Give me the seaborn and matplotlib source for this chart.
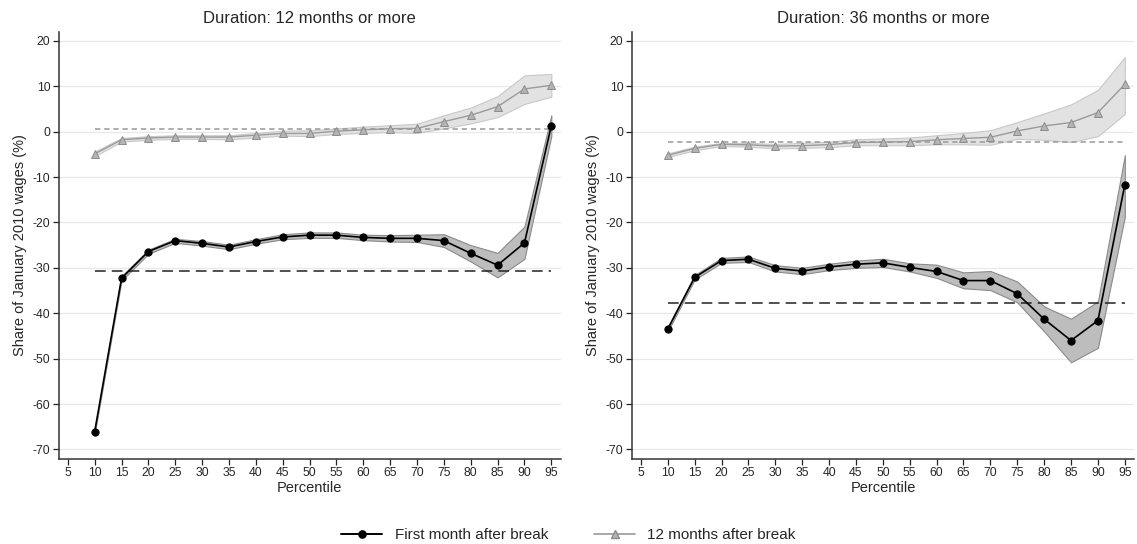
import numpy as np
import pandas as pd
import matplotlib
matplotlib.use("Agg")
import matplotlib.pyplot as plt
import seaborn as sns
from matplotlib.lines import Line2D

sns.set_theme(style="white")
plt.rcParams['font.family'] = ['Liberation Sans', 'DejaVu Sans']

percentiles = [10, 15, 20, 25, 30, 35, 40, 45, 50, 55, 60, 65, 70, 75, 80, 85, 90, 95]
xticks = list(range(5, 100, 5))
yticks = [20, 10, 0, -10, -20, -30, -40, -50, -60, -70]

titles = ["Duration: 12 months or more", "Duration: 36 months or more"]
series_names = ["First month after break", "12 months after break"]

# Panel 1: 12 months or more
first_12 = [-66.1, -32.3, -26.4, -24.0, -24.6, -25.4, -24.2, -23.2, -22.8, -22.8, -23.3, -23.5, -23.5, -24.0, -26.8, -29.4, -24.5, 1.3]
first_12_hi = [-65.6, -31.8, -26.0, -23.6, -24.1, -24.9, -23.7, -22.6, -22.2, -22.2, -22.7, -22.8, -22.7, -22.6, -25.0, -26.7, -20.9, 3.6]
first_12_lo = [-66.6, -32.8, -26.9, -24.5, -25.1, -25.9, -24.7, -23.7, -23.4, -23.4, -23.9, -24.2, -24.3, -25.4, -28.6, -32.1, -28.0, -1.0]
twelve_12 = [-4.9, -1.8, -1.4, -1.2, -1.2, -1.2, -0.8, -0.4, -0.4, 0.1, 0.4, 0.65, 0.7, 2.2, 3.6, 5.5, 9.4, 10.2]
twelve_12_hi = [-4.4, -1.4, -1.0, -0.8, -0.8, -0.8, -0.3, 0.2, 0.3, 0.7, 1.1, 1.4, 1.75, 3.6, 5.3, 7.8, 12.4, 12.7]
twelve_12_lo = [-5.4, -2.2, -1.8, -1.6, -1.6, -1.7, -1.3, -0.9, -1.0, -0.5, -0.3, -0.1, -0.3, 0.7, 1.8, 3.2, 6.1, 7.7]
mean_first_12 = -30.7
mean_twelve_12 = 0.6

# Panel 2: 36 months or more
first_36 = [-43.5, -32.1, -28.4, -28.1, -30.1, -30.7, -29.8, -29.2, -28.9, -29.9, -30.8, -32.8, -32.8, -35.7, -41.3, -46.0, -41.6, -11.7]
first_36_hi = [-43.0, -31.6, -27.8, -27.5, -29.4, -30.0, -29.1, -28.4, -28.0, -29.0, -29.3, -31.0, -30.7, -33.0, -38.5, -41.2, -37.4, -5.2]
first_36_lo = [-44.0, -32.6, -28.9, -28.7, -30.8, -31.4, -30.5, -30.0, -29.8, -30.8, -32.2, -34.5, -34.9, -37.6, -44.0, -50.8, -47.6, -18.8]
twelve_36 = [-5.2, -3.7, -2.8, -2.9, -3.2, -3.1, -2.85, -2.4, -2.3, -2.2, -1.8, -1.5, -1.25, 0.15, 1.25, 2.0, 4.2, 10.4]
twelve_36_hi = [-4.8, -3.3, -2.5, -2.5, -2.7, -2.5, -2.2, -1.7, -1.5, -1.3, -0.8, -0.3, 0.3, 2.1, 4.0, 6.0, 9.2, 16.4]
twelve_36_lo = [-5.6, -4.1, -3.2, -3.3, -3.7, -3.6, -3.4, -3.0, -3.0, -3.0, -2.8, -2.8, -2.9, -1.6, -1.8, -2.3, -1.0, 3.9]
mean_first_36 = -37.8
mean_twelve_36 = -2.3

panels = [
    (first_12, first_12_lo, first_12_hi, twelve_12, twelve_12_lo, twelve_12_hi, mean_first_12, mean_twelve_12),
    (first_36, first_36_lo, first_36_hi, twelve_36, twelve_36_lo, twelve_36_hi, mean_first_36, mean_twelve_36),
]

fig = plt.figure(figsize=(11.37, 5.44), dpi=100)
axes = [fig.add_axes([0.0516, 0.1562, 0.4418, 0.7855]),
        fig.add_axes([0.5556, 0.1562, 0.4422, 0.7855])]

for ax, title, (f, flo, fhi, t, tlo, thi, mf, mt) in zip(axes, titles, panels):
    df = pd.DataFrame({"pct": percentiles, "first": f, "twelve": t})
    for yv in yticks:
        ax.axhline(yv, color="#e8e8e8", lw=0.9, zorder=0)
    ax.fill_between(percentiles, tlo, thi, color="#e2e2e2", edgecolor="#c8c8c8", lw=0.8, zorder=1)
    ax.fill_between(percentiles, flo, fhi, color="#bdbdbd", edgecolor="#8a8a8a", lw=0.8, zorder=2)
    ax.hlines(mt, percentiles[0], percentiles[-1], colors="#999999", linestyles=(0, (3.5, 2.5)), lw=1.1, zorder=3)
    ax.hlines(mf, percentiles[0], percentiles[-1], colors="#222222", linestyles=(0, (7, 4)), lw=1.1, zorder=3)
    sns.lineplot(data=df, x="pct", y="twelve", ax=ax, color="#9a9a9a", lw=1.0,
                 marker="^", markersize=5.2, markerfacecolor="#b4b4b4",
                 markeredgecolor="#8c8c8c", markeredgewidth=0.7, zorder=4)
    sns.lineplot(data=df, x="pct", y="first", ax=ax, color="black", lw=1.2,
                 marker="o", markersize=5.2, markerfacecolor="black",
                 markeredgecolor="black", zorder=5)
    ax.set_xlim(3.3, 96.8)
    ax.set_ylim(-72.1, 22.0)
    ax.set_xticks(xticks)
    ax.set_xticklabels([str(v) for v in xticks], fontsize=8.8)
    ax.set_yticks(yticks)
    ax.set_yticklabels([str(v) for v in yticks], fontsize=8.8)
    ax.tick_params(axis="both", direction="out", length=4, width=0.9, color="#222222",
                   bottom=True, left=True, pad=2)
    for side in ["top", "right"]:
        ax.spines[side].set_visible(False)
    for side in ["left", "bottom"]:
        ax.spines[side].set_color("#333333")
        ax.spines[side].set_linewidth(1.1)
    ax.set_xlabel("Percentile", fontsize=10.5, labelpad=1.5)
    ax.set_ylabel("Share of January 2010 wages (%)", fontsize=10.5, labelpad=4)
    ax.set_title(title, fontsize=12, pad=6)
    ax.grid(False)

handles = [
    Line2D([0], [0], color="black", lw=1.4, marker="o", markersize=5.2, markerfacecolor="black"),
    Line2D([0], [0], color="#9a9a9a", lw=1.2, marker="^", markersize=5.2,
           markerfacecolor="#b4b4b4", markeredgecolor="#8c8c8c"),
]
fig.legend(handles, series_names, loc="center", bbox_to_anchor=(0.5, 0.016), ncol=2,
           frameon=False, fontsize=11, handlelength=2.7, columnspacing=3.0, handletextpad=0.8)

fig.savefig("out.png", dpi=100)
